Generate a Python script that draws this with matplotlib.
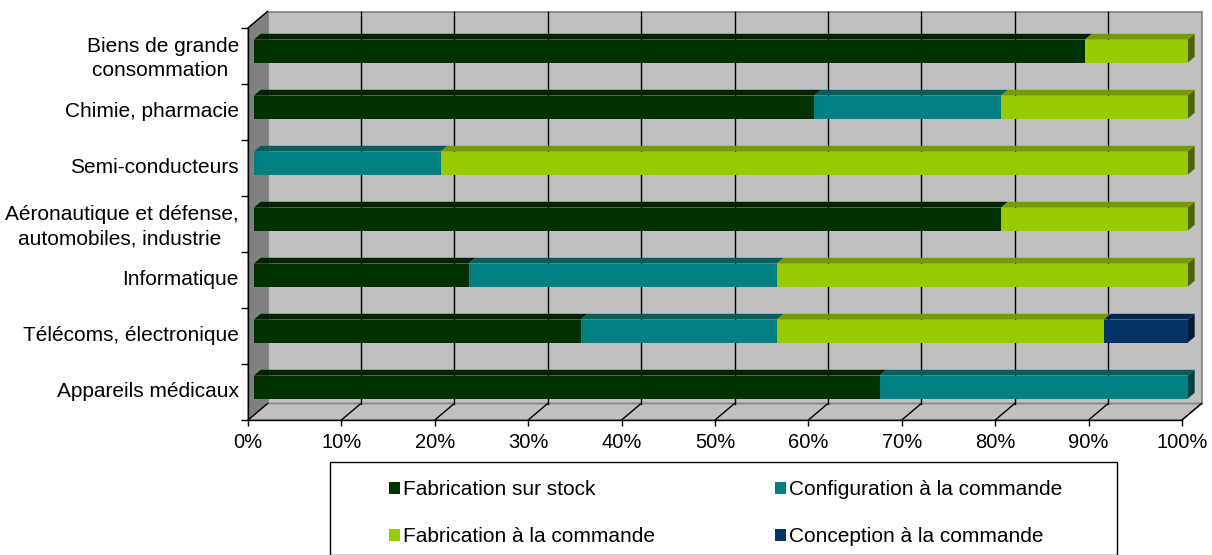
import numpy as np
import matplotlib.pyplot as plt
from matplotlib.patches import Polygon, Rectangle

# data (percent of each industry)
categories = ["Biens de grande\nconsommation ", "Chimie, pharmacie", "Semi-conducteurs",
              "Aéronautique et défense,\nautomobiles, industrie ", "Informatique",
              "Télécoms, électronique", "Appareils médicaux"]
series = ["Fabrication sur stock", "Configuration à la commande",
          "Fabrication à la commande", "Conception à la commande"]
stock = [89, 60, 0, 80, 23, 35, 67]
config = [0, 20, 20, 0, 33, 21, 33]
fab_cmd = [11, 20, 80, 20, 44, 35, 0]
concep = [0, 0, 0, 0, 0, 9, 0]
xticks = [0, 10, 20, 30, 40, 50, 60, 70, 80, 90, 100]

front_col = ['#003300', '#008080', '#99cc00', '#003366']
top_col = ['#002200', '#006060', '#779900', '#002650']
side_col = ['#001800', '#004040', '#4d6600', '#001a33']

plt.rcParams['font.family'] = ['Liberation Sans', 'DejaVu Sans']

fig = plt.figure(figsize=(12.12, 5.55), dpi=100)
W, H = 1212, 555
ax = fig.add_axes([248 / W, (H - 420) / H, 934 / W, 392 / H])
ax.set_xlim(0, 100)
ax.set_ylim(0, 7)
ax.patch.set_visible(False)

# depth offset of the 3d box, in data units
px_x = 934 / 100
px_y = 392 / 7
DX = 19.5 / px_x
DY = 16.5 / px_y
n = len(categories)

# walls and floor
wall = Rectangle((DX, DY), 100, n, facecolor='#c0c0c0', edgecolor='#808080', lw=1.2, zorder=0, clip_on=False)
ax.add_patch(wall)
left = Polygon([(0, 0), (DX, DY), (DX, n + DY), (0, n)], closed=True, facecolor='#808080',
               edgecolor='#808080', lw=1, zorder=0.5, clip_on=False)
ax.add_patch(left)
floor = Polygon([(0, 0), (100, 0), (100 + DX, DY), (DX, DY)], closed=True, facecolor='#c0c0c0',
                edgecolor='#808080', lw=1.2, zorder=0.5, clip_on=False)
ax.add_patch(floor)
ax.plot([0, DX], [n, n + DY], color='black', lw=1, zorder=0.6, clip_on=False)

for v in xticks[1:-1]:
    ax.plot([v + DX, v + DX], [DY, n + DY], color='black', lw=1, zorder=1, clip_on=False)
for v in xticks:
    ax.plot([v, v + DX], [0, DY], color='black', lw=1, zorder=1, clip_on=False)

# stacked 3d bars
f1, f2 = 0.3, 0.65
bh = 0.41
data = np.array([stock, config, fab_cmd, concep], dtype=float)
for i in range(n):
    c = n - i - 0.5
    y0 = c - bh / 2 + f1 * DY
    y1 = c + bh / 2 + f1 * DY
    ox1, ox2 = f1 * DX, f2 * DX
    oy = (f2 - f1) * DY
    lefts = np.concatenate([[0], np.cumsum(data[:, i])[:-1]])
    last = max(k for k in range(4) if data[k, i] > 0)
    for k in range(4):
        w = data[k, i]
        if w <= 0:
            continue
        a = lefts[k] + ox1
        b = a + w
        ax.add_patch(Polygon([(a, y1), (b, y1), (b + ox2 - ox1, y1 + oy), (a + ox2 - ox1, y1 + oy)],
                             closed=True, facecolor=top_col[k], edgecolor='none', zorder=2, clip_on=False))
        ax.barh(y0 + bh / 2, w, height=bh, left=a, color=front_col[k], zorder=3, clip_on=False)
        if k == last:
            ax.add_patch(Polygon([(b, y0), (b, y1), (b + ox2 - ox1, y1 + oy), (b + ox2 - ox1, y0 + oy)],
                                 closed=True, facecolor=side_col[k], edgecolor='none', zorder=2, clip_on=False))

# axes
for s in ['top', 'right']:
    ax.spines[s].set_visible(False)
for s in ['left', 'bottom']:
    ax.spines[s].set_color('black')
    ax.spines[s].set_linewidth(1)
    ax.spines[s].set_zorder(5)
ax.set_xticks(xticks)
ax.set_xticklabels([f"{v}%" for v in xticks], fontsize=14.5)
ax.tick_params(axis='x', direction='out', length=4, width=1, pad=5.5)
ax.set_yticks(range(n + 1))
ax.set_yticklabels([])
ax.tick_params(axis='y', which='major', direction='out', length=5, width=1)
# category labels sit a little above the slot centre, like the original
ax.set_yticks([n - i - 0.5 + 0.04 for i in range(n)], minor=True)
ax.set_yticklabels(categories, minor=True, fontsize=15)
ax.tick_params(axis='y', which='minor', length=0, pad=6.5)
for t in ax.get_yticklabels(minor=True):
    t.set_multialignment('center')
    t.set_linespacing(1.38)

# legend
fig.patches.append(Rectangle((330 / W, 0.5 / H), 787 / W, (H - 462.5) / H, transform=fig.transFigure,
                             fill=False, edgecolor='black', lw=1))
handles = [Rectangle((0, 0), 1, 1, facecolor=front_col[k]) for k in [0, 2, 1, 3]]
labels = [series[k] for k in [0, 2, 1, 3]]
fig.legend(handles, labels, ncol=2, loc='upper left', bbox_to_anchor=(389 / W, 1 - 480 / H),
           frameon=False, fontsize=15, handlelength=0.52, handleheight=0.52, handletextpad=0.15,
           columnspacing=5.75, labelspacing=1.35, borderpad=0, borderaxespad=0)

fig.savefig('out.png', dpi=100)
